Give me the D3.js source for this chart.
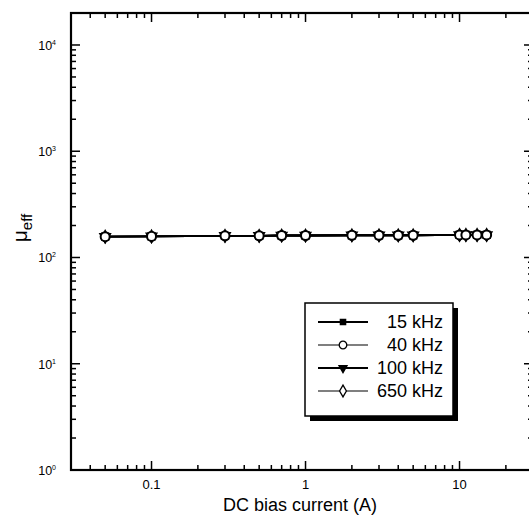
<!DOCTYPE html>
<html>
<head>
<meta charset="utf-8">
<script src="https://cdn.jsdelivr.net/npm/d3@7"></script>
<style>
    body { margin: 0; background: #fff; overflow: hidden; }
    svg { display: block; }
    text { font-family: "Liberation Sans", Arial, sans-serif; fill: #000; }
</style>
</head>
<body>
<div id="chart"></div>
<script>
// DC bias current (A)
const current = [0.05, 0.1, 0.3, 0.5, 0.7, 1, 2, 3, 4, 5, 10, 11, 13, 15];
// effective permeability per frequency (curves overlap)
const mu15k = [157, 158, 160, 160, 161, 161, 162, 162, 162, 162, 163, 163, 163, 163];
const mu40k = [157, 158, 160, 160, 161, 161, 162, 162, 162, 162, 163, 163, 163, 163];
const mu100k = [157, 158, 160, 160, 161, 161, 162, 162, 162, 162, 163, 163, 163, 163];
const mu650k = [157, 158, 160, 160, 161, 161, 162, 162, 162, 162, 163, 163, 163, 163];
const seriesNames = ["15 kHz", "40 kHz", "100 kHz", "650 kHz"];
const xTickLabels = ["0.1", "1", "10"];
const yTickExps = [0, 1, 2, 3, 4];

const width = 529, height = 515;
const plotLeft = 71, plotRight = 533, plotTop = 13, plotBottom = 470;

const svg = d3.select("#chart").append("svg")
    .attr("width", width)
    .attr("height", height);

const x = d3.scaleLog().domain([0.03, 30]).range([plotLeft, plotRight]);
const y = d3.scaleLog().domain([1, 20000]).range([plotBottom, plotTop]);

// minor/major tick values
const xMinor = [];
[0.01, 0.1, 1, 10].forEach(d => {
    for (let k = 1; k <= 9; k++) {
        const v = d * k;
        if (v >= 0.03 && v <= 30) xMinor.push(v);
    }
});
const yMinor = [];
[1, 10, 100, 1000, 10000].forEach(d => {
    for (let k = 1; k <= 9; k++) {
        const v = d * k;
        if (v <= 20000) yMinor.push(v);
    }
});
const isMajor = v => Math.abs(Math.log10(v) - Math.round(Math.log10(v))) < 1e-6;

const ticks = svg.append("g").attr("stroke", "#000").attr("stroke-width", 1.5);

// bottom and top ticks (inward)
xMinor.forEach(v => {
    const len = isMajor(v) ? 9 : 5;
    ticks.append("line").attr("x1", x(v)).attr("x2", x(v))
        .attr("y1", plotBottom).attr("y2", plotBottom - len);
    ticks.append("line").attr("x1", x(v)).attr("x2", x(v))
        .attr("y1", plotTop).attr("y2", plotTop + len);
});
// left and right ticks (inward)
yMinor.forEach(v => {
    const len = isMajor(v) ? 9 : 5;
    ticks.append("line").attr("y1", y(v)).attr("y2", y(v))
        .attr("x1", plotLeft).attr("x2", plotLeft + len);
    ticks.append("line").attr("y1", y(v)).attr("y2", y(v))
        .attr("x1", plotRight).attr("x2", plotRight - len);
});

// frame
svg.append("rect")
    .attr("x", plotLeft).attr("y", plotTop)
    .attr("width", plotRight - plotLeft).attr("height", plotBottom - plotTop)
    .attr("fill", "none").attr("stroke", "#000").attr("stroke-width", 2.2);

// x tick labels
svg.append("g").selectAll("text")
    .data(xTickLabels)
    .enter().append("text")
    .attr("x", d => x(+d))
    .attr("y", 489)
    .attr("text-anchor", "middle")
    .attr("font-size", 13)
    .text(d => d);

// y tick labels 10^n
const yl = svg.append("g").selectAll("text")
    .data(yTickExps)
    .enter().append("text")
    .attr("x", 56)
    .attr("y", d => y(Math.pow(10, d)) + 5)
    .attr("text-anchor", "end")
    .attr("font-size", 12.5);
yl.append("tspan").text("10");
yl.append("tspan").attr("dy", -5).attr("font-size", 7).text(d => d);

// axis titles
svg.append("text")
    .attr("x", 300).attr("y", 511)
    .attr("text-anchor", "middle")
    .attr("font-size", 18)
    .text("DC bias current (A)");

const yt = svg.append("text")
    .attr("transform", "translate(27,228) rotate(-90)")
    .attr("text-anchor", "middle")
    .attr("font-size", 21);
yt.append("tspan").text("μ");
yt.append("tspan").attr("dy", 5).attr("font-size", 15).text("eff");

// data
const allSeries = [mu15k, mu40k, mu100k, mu650k];
const line = d3.line()
    .x((d, i) => x(current[i]))
    .y(d => y(d));

const markers = [
    { type: d3.symbolSquare, size: 40, fill: "#000", lw: 2 },
    { type: d3.symbolCircle, size: 64, fill: "#fff", lw: 1.2 },
    { type: d3.symbolTriangle, size: 40, fill: "#000", lw: 2, rot: 180 },
    { type: d3.symbolDiamond, size: 36, fill: "#fff", lw: 1.2 }
];
// circles end up on top, as in the picture
const drawOrder = [0, 2, 3, 1];

drawOrder.forEach(k => {
    svg.append("path")
        .attr("d", line(allSeries[k]))
        .attr("fill", "none")
        .attr("stroke", "#000")
        .attr("stroke-width", 1.8);
});
drawOrder.forEach(k => {
    const m = markers[k];
    svg.append("g").selectAll("path")
        .data(allSeries[k])
        .enter().append("path")
        .attr("d", d3.symbol().type(m.type).size(m.size))
        .attr("transform", (d, i) => `translate(${x(current[i])},${y(d)})` + (m.rot ? ` rotate(${m.rot})` : ""))
        .attr("fill", m.fill)
        .attr("stroke", "#000")
        .attr("stroke-width", 2);
});

// legend
const lg = svg.append("g");
const lx = 305, ly = 303, lw = 148, lh = 113;
lg.append("rect")
    .attr("x", lx + 5).attr("y", ly + 5)
    .attr("width", lw).attr("height", lh)
    .attr("fill", "#000");
lg.append("rect")
    .attr("x", lx).attr("y", ly)
    .attr("width", lw).attr("height", lh)
    .attr("fill", "#fff").attr("stroke", "#000").attr("stroke-width", 1.5);

seriesNames.forEach((name, k) => {
    const ry = 322 + k * 23;
    const m = markers[k];
    lg.append("line")
        .attr("x1", 318).attr("x2", 368)
        .attr("y1", ry).attr("y2", ry)
        .attr("stroke", "#000").attr("stroke-width", m.lw);
    lg.append("path")
        .attr("d", d3.symbol().type(m.type).size(k === 3 ? 40 : m.size * 0.7))
        .attr("transform", `translate(343,${ry})` + (m.rot ? ` rotate(${m.rot})` : ""))
        .attr("fill", m.fill)
        .attr("stroke", "#000")
        .attr("stroke-width", 1.3);
    lg.append("text")
        .attr("x", 443).attr("y", ry + 6)
        .attr("text-anchor", "end")
        .attr("font-size", 18)
        .text(name);
});
</script>
</body>
</html>
